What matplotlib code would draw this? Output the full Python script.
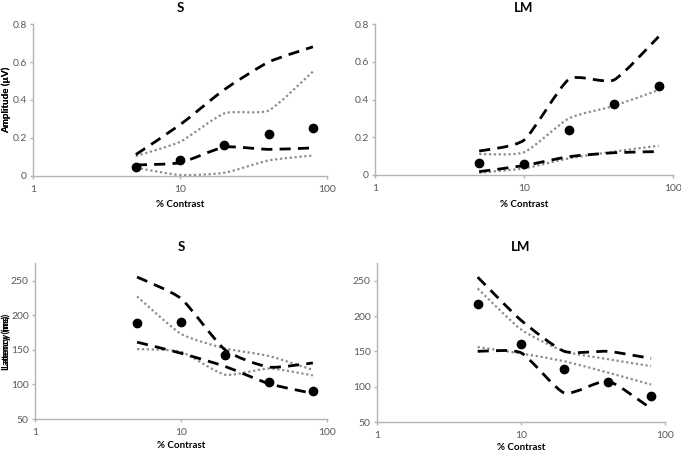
import matplotlib
matplotlib.use('Agg')
import matplotlib.pyplot as plt
import matplotlib.transforms as mtransforms
from matplotlib.path import Path
from matplotlib.patches import PathPatch
import numpy as np

plt.rcParams['font.family'] = ['Lato', 'DejaVu Sans']

contrast = [5, 10, 20, 40, 80]

# amplitude (uV)
s_amp_mean = [0.047, 0.084, 0.162, 0.222, 0.25]
s_amp_hi_dash = [0.113, 0.27, 0.455, 0.60, 0.68]
s_amp_hi_dot = [0.105, 0.18, 0.33, 0.345, 0.55]
s_amp_lo_dash = [0.058, 0.07, 0.152, 0.14, 0.148]
s_amp_lo_dot = [0.044, 0.005, 0.017, 0.082, 0.108]

lm_amp_mean = [0.065, 0.058, 0.238, 0.376, 0.472]
lm_amp_hi_dash = [0.127, 0.185, 0.507, 0.503, 0.733]
lm_amp_hi_dot = [0.111, 0.12, 0.30, 0.366, 0.45]
lm_amp_lo_dash = [0.018, 0.05, 0.097, 0.118, 0.124]
lm_amp_lo_dot = [0.012, 0.035, 0.088, 0.124, 0.155]

# latency (ms)
s_lat_mean = [189, 190, 143, 104, 90]
s_lat_hi_dash = [255, 224, 150, 125, 131]
s_lat_hi_dot = [227, 173, 152, 141, 121]
s_lat_lo_dash = [161, 145, 126, 101, 87]
s_lat_lo_dot = [151, 147, 114, 123, 113]

lm_lat_mean = [217, 161, 125, 106, 87]
lm_lat_hi_dash = [255, 194, 150, 150, 140]
lm_lat_hi_dot = [239, 181, 150, 139, 129]
lm_lat_lo_dash = [150, 148, 91, 108, 69]
lm_lat_lo_dot = [156, 147, 136, 120, 103]

AXIS_GREY = '#B3B3B3'
TEXT_GREY = '#595959'
W, H = 681, 453


def smooth_line(ax, x, y, **kw):
    # Excel-style smoothed line: cardinal bezier in log-x space
    lx = np.log10(np.asarray(x, float))
    y = np.asarray(y, float)
    pts = np.column_stack([lx, y])
    n = len(pts)
    verts = [pts[0]]
    codes = [Path.MOVETO]
    for i in range(n - 1):
        p0 = pts[i - 1] if i > 0 else pts[i]
        p1 = pts[i]
        p2 = pts[i + 1]
        p3 = pts[i + 2] if i + 2 < n else pts[i + 1]
        c1 = p1 + (p2 - p0) / 10.0
        c2 = p2 - (p3 - p1) / 10.0
        verts += [c1, c2, p2]
        codes += [Path.CURVE4] * 3
    verts = np.array(verts)
    verts[:, 0] = 10 ** verts[:, 0]
    ax.add_patch(PathPatch(Path(verts, codes), fill=False, **kw))


def panel(rect, title, ylabel, ylim, yticks, xlab_y, mean, hi_dash, lo_dash, hi_dot, lo_dot):
    ax = fig.add_axes(rect)
    ax.set_xscale('log')
    ax.set_xlim(1, 100)
    ax.set_ylim(*ylim)
    ax.set_xticks([1, 10, 100])
    ax.set_xticklabels(['1', '10', '100'])
    ax.minorticks_off()
    ax.set_yticks(yticks)
    ax.set_yticklabels([f'{t:g}' for t in yticks])
    for side in ['top', 'right']:
        ax.spines[side].set_visible(False)
    for side in ['left', 'bottom']:
        ax.spines[side].set_color(AXIS_GREY)
        ax.spines[side].set_linewidth(1.0)
    ax.tick_params(colors=AXIS_GREY, labelcolor=TEXT_GREY, labelsize=7.5,
                   length=2.5, width=1.0, pad=2)
    ax.tick_params(axis='x', pad=4)
    for ys in [hi_dot, lo_dot]:
        smooth_line(ax, contrast, ys, edgecolor='#8C8C8C', linewidth=1.6,
                    linestyle=(0, (1, 1.2)), zorder=2)
    for ys in [hi_dash, lo_dash]:
        smooth_line(ax, contrast, ys, edgecolor='black', linewidth=2.0,
                    linestyle=(0, (4, 2.6)), zorder=3)
    ax.plot(contrast, mean, 'o', color='black', markersize=6, zorder=4)
    ax.set_title(title, fontsize=9.5, fontweight='bold', pad=9)
    ax.set_xlabel('% Contrast', fontsize=7, fontweight='bold')
    ax.set_ylabel(ylabel, fontsize=7, fontweight='bold')
    ax.xaxis.set_label_coords(0.5, 1 - xlab_y / H,
                              transform=mtransforms.blended_transform_factory(ax.transAxes, fig.transFigure))
    ax.yaxis.set_label_coords(6 / W, 0.5,
                              transform=mtransforms.blended_transform_factory(fig.transFigure, ax.transAxes))
    ax.xaxis.label.set_va('center')
    ax.yaxis.label.set_va('center')
    return ax


fig = plt.figure(figsize=(6.81, 4.53), dpi=100)

panel([0.0485, 0.6115, 0.432, 0.3355], 'S', 'Amplitude (µV)', (0, 0.8),
      [0, 0.2, 0.4, 0.6, 0.8], 204, s_amp_mean, s_amp_hi_dash, s_amp_lo_dash,
      s_amp_hi_dot, s_amp_lo_dot)
panel([0.5507, 0.6137, 0.4376, 0.3333], 'LM', 'Amplitude (µV)', (0, 0.8),
      [0, 0.2, 0.4, 0.6, 0.8], 204, lm_amp_mean, lm_amp_hi_dash, lm_amp_lo_dash,
      lm_amp_hi_dot, lm_amp_lo_dot)
panel([0.0514, 0.075, 0.4288, 0.344], 'S', 'Latency (ms)', (50, 275),
      [50, 100, 150, 200, 250], 445, s_lat_mean, s_lat_hi_dash, s_lat_lo_dash,
      s_lat_hi_dot, s_lat_lo_dot)
panel([0.5536, 0.0684, 0.423, 0.351], 'LM', 'Latency (ms)', (50, 275),
      [50, 100, 150, 200, 250], 448, lm_lat_mean, lm_lat_hi_dash, lm_lat_lo_dash,
      lm_lat_hi_dot, lm_lat_lo_dot)

fig.savefig('out.png', dpi=100)
